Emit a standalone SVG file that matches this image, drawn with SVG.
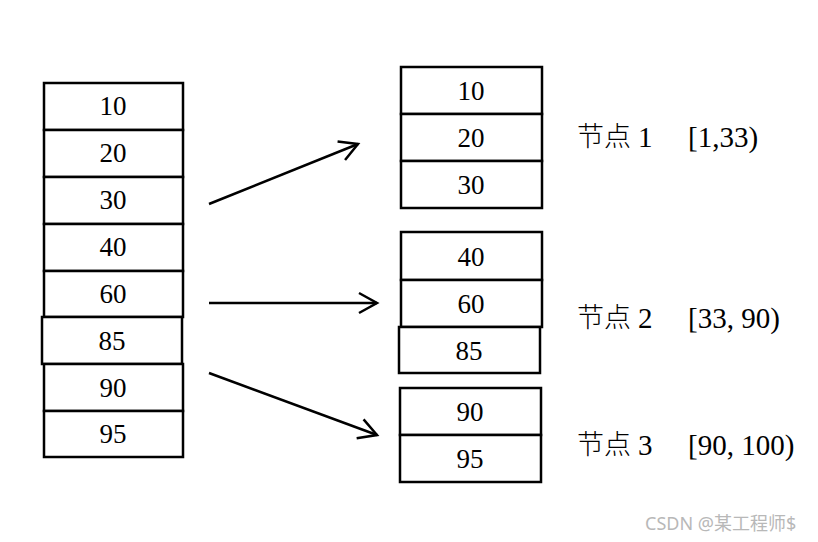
<svg xmlns="http://www.w3.org/2000/svg" width="818" height="542" viewBox="0 0 818 542">
<style>
.cell{fill:#fff;stroke:#000;stroke-width:2.5}
.t{font-family:"Liberation Serif","Noto Sans CJK SC",serif;font-size:27px;fill:#000;text-anchor:middle}
.l{font-family:"Liberation Serif","Noto Sans CJK SC",serif;font-size:29px;fill:#000}
.k{font-family:"Noto Sans CJK SC",serif;font-size:27px;fill:#000;font-weight:300}
.c{stroke:#000;stroke-width:2.5;fill:none}
</style>
<defs>
<marker id="ah" markerUnits="userSpaceOnUse" viewBox="-20 -12 22 24" refX="0" refY="0" markerWidth="22" markerHeight="24" orient="auto" overflow="visible">
<path d="M-18,-10 L0,0 L-18,10" fill="none" stroke="#000" stroke-width="2.5"/>
</marker>
</defs>
<rect width="818" height="542" fill="#fff"/>
<g id="source">
<rect class="cell" x="44" y="83" width="139" height="47"/><text class="t" x="113" y="115">10</text>
<rect class="cell" x="44" y="130" width="139" height="47"/><text class="t" x="113" y="162">20</text>
<rect class="cell" x="44" y="177" width="139" height="47"/><text class="t" x="113" y="209">30</text>
<rect class="cell" x="44" y="224" width="139" height="47"/><text class="t" x="113" y="256">40</text>
<rect class="cell" x="44" y="271" width="139" height="46"/><text class="t" x="113" y="303">60</text>
<rect class="cell" x="42" y="317" width="140" height="47"/><text class="t" x="112" y="350">85</text>
<rect class="cell" x="44" y="364" width="139" height="47"/><text class="t" x="113" y="397">90</text>
<rect class="cell" x="44" y="411" width="139" height="46"/><text class="t" x="113" y="443">95</text>
</g>
<g id="node1">
<rect class="cell" x="401" y="67" width="141" height="47"/><text class="t" x="471" y="100">10</text>
<rect class="cell" x="401" y="114" width="141" height="47"/><text class="t" x="471" y="147">20</text>
<rect class="cell" x="401" y="161" width="141" height="47"/><text class="t" x="471" y="194">30</text>
<text class="k" x="577" y="146">节点</text><text class="l" x="638" y="147">1</text><text class="l" x="688" y="147">[1,33)</text>
</g>
<g id="node2">
<rect class="cell" x="401" y="232" width="141" height="48"/><text class="t" x="471" y="266">40</text>
<rect class="cell" x="401" y="280" width="141" height="47"/><text class="t" x="471" y="313">60</text>
<rect class="cell" x="399" y="327" width="141" height="46"/><text class="t" x="469" y="360">85</text>
<text class="k" x="577" y="327">节点</text><text class="l" x="638" y="328">2</text><text class="l" x="688" y="328">[33, 90)</text>
</g>
<g id="node3">
<rect class="cell" x="400" y="388" width="141" height="47"/><text class="t" x="470" y="421">90</text>
<rect class="cell" x="400" y="435" width="141" height="47"/><text class="t" x="470" y="468">95</text>
<text class="k" x="577" y="454">节点</text><text class="l" x="638" y="455">3</text><text class="l" x="688" y="455">[90, 100)</text>
</g>
<g id="connectors">
<line class="c" x1="209" y1="204" x2="358" y2="144" marker-end="url(#ah)"/>
<line class="c" x1="209" y1="303" x2="377" y2="303" marker-end="url(#ah)"/>
<line class="c" x1="209" y1="373" x2="377" y2="435" marker-end="url(#ah)"/>
</g>
<text x="645" y="530" font-family="'Noto Sans','Noto Sans CJK SC',sans-serif" font-size="18" fill="#b8b8b8">CSDN @某工程师$</text>
</svg>
